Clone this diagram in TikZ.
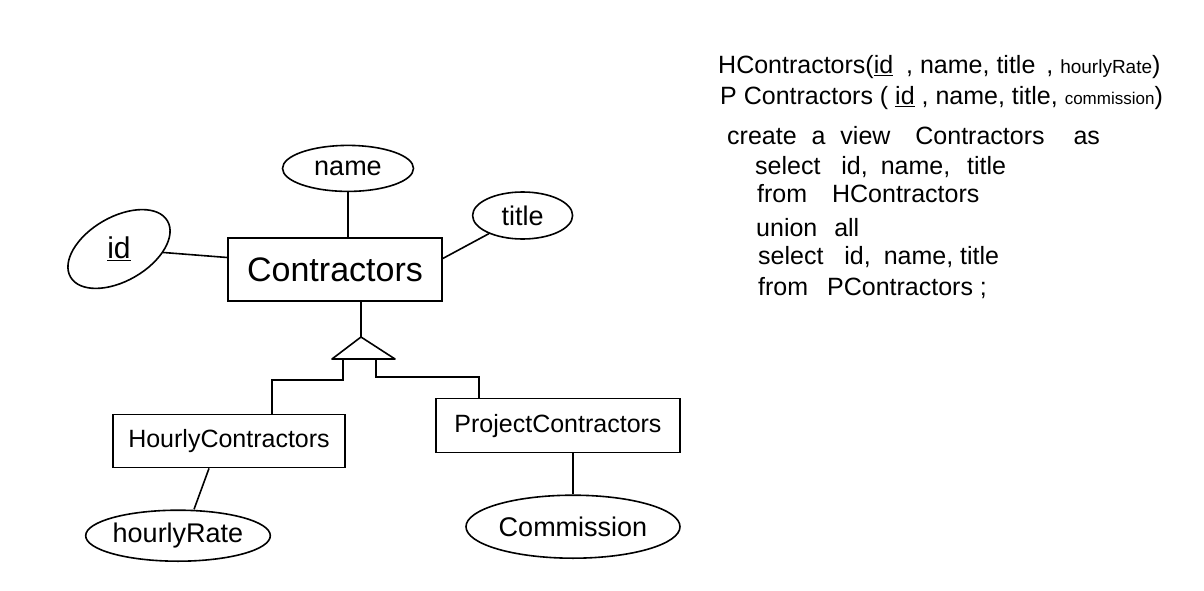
\documentclass[tikz,border=0pt]{standalone}
\usepackage{fontspec}
\setmainfont{Liberation Sans}
\usetikzlibrary{shapes.geometric,positioning}
\tikzset{
    entity/.style={rectangle, draw, line width=1.6pt, inner sep=2pt, align=center},
    attrib/.style={ellipse, draw, line width=1.6pt, inner sep=0pt, font=\fontsize{27}{30}\selectfont},
    link/.style={line width=1.6pt},
    sqltext/.style={anchor=base west, inner sep=0pt, font=\fontsize{25}{28}\selectfont},
}

\begin{document}
\begin{tikzpicture}[x=1pt, y=-1pt]
    \useasboundingbox (0,0) rectangle (1204,591);

    % entities
    \node[entity, minimum width=214pt, minimum height=63pt, font=\fontsize{34}{38}\selectfont] (contr) at (335,269.5) {Contractors};
    \node[entity, minimum width=232pt, minimum height=53pt, font=\fontsize{25}{28}\selectfont, below=112pt of contr, xshift=-106pt] (hourly) {HourlyContractors};
    \node[entity, minimum width=244pt, minimum height=54pt, font=\fontsize{25}{28}\selectfont, below=96pt of contr, xshift=223pt] (project) {ProjectContractors};

    % attributes
    \node[attrib, minimum width=131pt, minimum height=46pt, above=45pt of contr, xshift=13pt] (name) {name};
    \node[attrib, minimum width=100pt, minimum height=47pt, right=29pt of contr, yshift=54pt] (title) {title};
    \node[attrib, rotate=30, minimum width=112pt, minimum height=64pt, font=\fontsize{30}{32}\selectfont] (id) at (119,249) {\rotatebox{-30}{\underline{id}}};
    \node[attrib, minimum width=180pt, minimum height=51pt, below=41pt of hourly, xshift=-51pt] (rate) {hourlyRate};
    \node[attrib, minimum width=214pt, minimum height=63pt, below=41pt of project, xshift=15pt] (comm) {Commission};

    \draw[link] (name) -- (name |- contr.north);
    \draw[link] (id) -- ([yshift=12pt]contr.west);
    \draw[link] ([yshift=11pt]contr.east) -- (title);
    \draw[link] ([xshift=-20pt]hourly.south) -- ([xshift=16pt]rate.north);
    \draw[link] (comm) -- (comm |- project.south);

    % isa triangle
    \coordinate (isa) at (361,337);
    \coordinate (legL) at (343,359);
    \coordinate (legR) at (376,359);
    \coordinate (bendL) at (272,380);
    \coordinate (bendR) at (479,377);
    \draw[link] (isa |- contr.south) -- (isa);
    \draw[link, line join=round] (isa) -- ++(-29,22) -- ++(63,0) -- cycle;
    \draw[link] (legL) |- (bendL) -- (bendL |- hourly.north);
    \draw[link] (legR) |- (bendR) -- (bendR |- project.north);

    % relations and view
    \node[sqltext] (code1) at (718,74) {HContractors(\underline{id}\hspace{6pt} , name, title\hspace{4pt} , {\fontsize{19}{21}\selectfont hourlyRate})};
    \node[sqltext] (code2) at (720,105) {P Contractors ( \underline{id} , name, title, {\fontsize{17}{19}\selectfont commission})};
    \node[sqltext] (code3) at (727,145) {create\hspace{8pt} a\hspace{8pt} view\hspace{18pt} Contractors\hspace{22pt} as};
    \node[sqltext] (code4) at (755,174) {select\hspace{14pt} id,\hspace{6pt} name,\hspace{10pt} title};
    \node[sqltext] (code5) at (757,202) {from\hspace{18pt} HContractors};
    \node[sqltext] (code6) at (756,236) {union\hspace{10pt} all};
    \node[sqltext] (code7) at (758,264) {select\hspace{14pt} id,\hspace{6pt} name, title};
    \node[sqltext] (code8) at (758,295) {from\hspace{12pt} PContractors ;};
\end{tikzpicture}
\end{document}
